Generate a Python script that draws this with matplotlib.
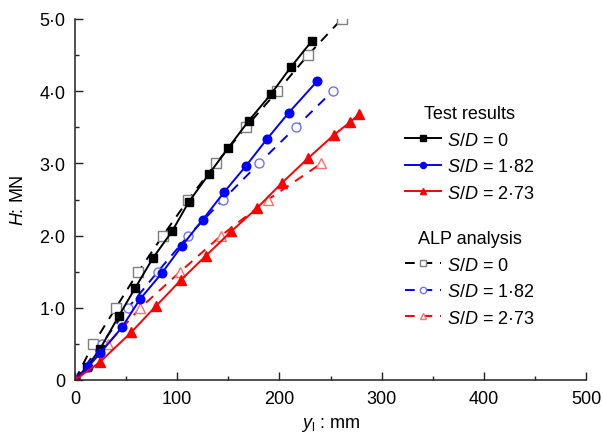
import matplotlib
matplotlib.use('Agg')
import matplotlib.pyplot as plt
from matplotlib.ticker import MultipleLocator, FixedLocator, FixedFormatter

plt.rcParams['font.family'] = ['Liberation Sans', 'DejaVu Sans']
plt.rcParams['mathtext.fontset'] = 'custom'
plt.rcParams['mathtext.rm'] = 'Liberation Sans'
plt.rcParams['mathtext.it'] = 'Liberation Sans:italic'
plt.rcParams['font.size'] = 13

# ---- data (y_l in mm, H in MN) ----
test_x_0 = [0, 11.7, 24.5, 43, 58.7, 76.3, 95, 111.5, 131, 149.7, 170, 191.8, 211, 232]
test_h_0 = [0, 0.18, 0.43, 0.89, 1.27, 1.69, 2.06, 2.47, 2.85, 3.21, 3.59, 3.96, 4.33, 4.70]

test_x_182 = [0, 12.7, 24.5, 46, 63.6, 85, 104.7, 125, 145.8, 167, 188, 209, 237]
test_h_182 = [0, 0.18, 0.37, 0.73, 1.12, 1.48, 1.86, 2.22, 2.60, 2.96, 3.34, 3.70, 4.14]

test_x_273 = [0, 24.5, 55, 79, 104, 128, 153, 178, 202.5, 228, 253, 269, 278]
test_h_273 = [0, 0.25, 0.66, 1.02, 1.39, 1.72, 2.06, 2.38, 2.73, 3.07, 3.39, 3.57, 3.68]

alp_x_0 = [0, 18, 40, 62, 86, 111, 138, 167, 198, 228, 261]
alp_h_0 = [0, 0.5, 1.0, 1.5, 2.0, 2.5, 3.0, 3.5, 4.0, 4.5, 5.0]

alp_x_182 = [0, 26, 52, 81, 111, 145, 180, 216, 252]
alp_h_182 = [0, 0.5, 1.0, 1.5, 2.0, 2.5, 3.0, 3.5, 4.0]

alp_x_273 = [0, 32, 64, 103, 143, 189, 241]
alp_h_273 = [0, 0.5, 1.0, 1.5, 2.0, 2.5, 3.0]

series_labels = [r'$\mathit{S/D}$ = 0', r'$\mathit{S/D}$ = 1·82', r'$\mathit{S/D}$ = 2·73']
x_ticks = [0, 100, 200, 300, 400, 500]
x_tick_labels = ['0', '100', '200', '300', '400', '500']
y_ticks = [0, 1, 2, 3, 4, 5]
y_tick_labels = ['0', '1·0', '2·0', '3·0', '4·0', '5·0']

fig = plt.figure(figsize=(6.03, 4.35), dpi=100)
ax = fig.add_axes([75/603, (435-381)/435, 511/603, 361/435])

lw = 1.4
alp_lines = []
for xs, hs, col, mk, ec, lab in [
    (alp_x_0, alp_h_0, 'black', 's', '#7f7f7f', series_labels[0]),
    (alp_x_182, alp_h_182, 'blue', 'o', '#6f6fff', series_labels[1]),
    (alp_x_273, alp_h_273, 'red', '^', '#ff6f6f', series_labels[2]),
]:
    ln, = ax.plot(xs, hs, color=col, lw=lw, ls=(0, (5, 4)), marker=mk, ms=6.5,
                  mfc='white', mec=ec, mew=1.0, label=lab)
    alp_lines.append(ln)

test_lines = []
for xs, hs, col, mk, ms, lab in [
    (test_x_0, test_h_0, 'black', 's', 5.4, series_labels[0]),
    (test_x_182, test_h_182, 'blue', 'o', 6.2, series_labels[1]),
    (test_x_273, test_h_273, 'red', '^', 6.5, series_labels[2]),
]:
    ln, = ax.plot(xs, hs, color=col, lw=lw, ls='-', marker=mk, ms=ms,
                  mfc=col, mec=col, label=lab)
    test_lines.append(ln)

ax.set_xlim(0, 500)
ax.set_ylim(0, 5)
ax.spines['top'].set_visible(False)
ax.spines['right'].set_visible(False)
for s in ['left', 'bottom']:
    ax.spines[s].set_linewidth(1.1)
    ax.spines[s].set_color('#222222')

ax.xaxis.set_major_locator(FixedLocator(x_ticks))
ax.xaxis.set_major_formatter(FixedFormatter(x_tick_labels))
ax.yaxis.set_major_locator(FixedLocator(y_ticks))
ax.yaxis.set_major_formatter(FixedFormatter(y_tick_labels))
ax.xaxis.set_minor_locator(MultipleLocator(50))
ax.yaxis.set_minor_locator(MultipleLocator(0.5))
ax.tick_params(which='both', direction='in', width=1.0, color='#222222', labelsize=13)
ax.tick_params(which='major', length=6, pad=7)
ax.tick_params(which='minor', length=3)

ax.set_xlabel(r'$\mathit{y}_{\mathrm{l}}$ : mm', fontsize=13, labelpad=6)
ax.set_ylabel(r'$\mathit{H}$: MN', fontsize=13, labelpad=9)

leg_kw = dict(loc='upper left', bbox_transform=fig.transFigure, frameon=False,
              fontsize=13, title_fontsize=13, markerscale=0.7, handlelength=2.0,
              handletextpad=0.3, labelspacing=0.53, borderpad=0, borderaxespad=0)
leg1 = ax.legend(handles=test_lines, title='Test results',
                 bbox_to_anchor=(405/603, 1 - 106/435), **leg_kw)
ax.add_artist(leg1)
leg2 = ax.legend(handles=alp_lines, title='ALP analysis',
                 bbox_to_anchor=(405/603, 1 - 231/435), **leg_kw)

fig.savefig('out.png', dpi=100)
